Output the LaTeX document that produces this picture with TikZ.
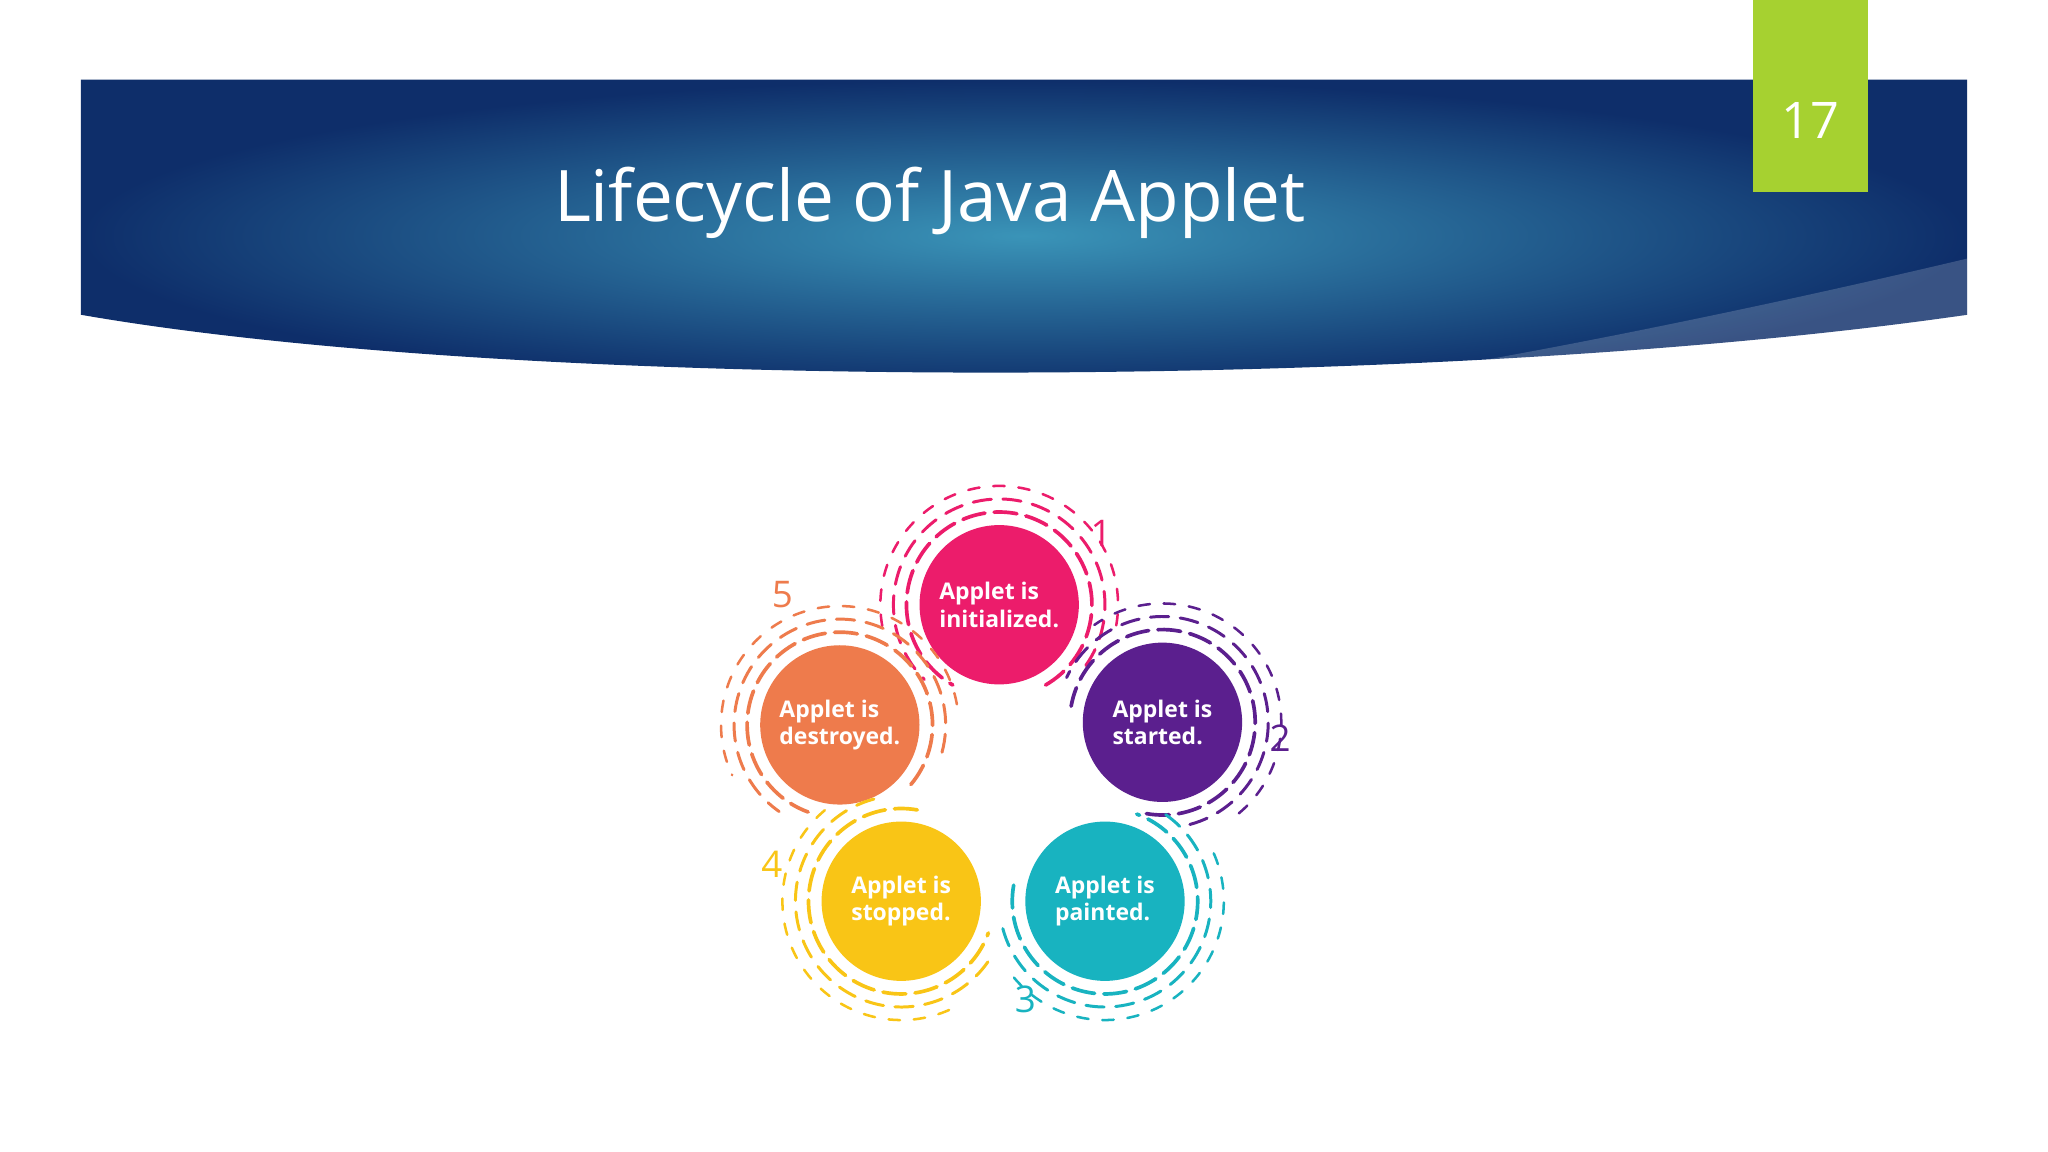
\documentclass[tikz,border=0pt]{standalone}
\usepackage{fontspec}
\setmainfont{Open Sans}
\definecolor{cpink}{HTML}{EC1C6B}
\definecolor{cpurple}{HTML}{5B1F8E}
\definecolor{cteal}{HTML}{18B3C0}
\definecolor{cyellow}{HTML}{F9C516}
\definecolor{corange}{HTML}{EE7B4C}
\definecolor{cgreen}{HTML}{A6D130}
\definecolor{dblue}{HTML}{0E2E6A}
\definecolor{lblue}{HTML}{3A94B8}
\tikzset{
 stagec/.style={circle,minimum size=2.44cm,inner sep=0pt,text=white,font=\bfseries\fontsize{10}{12}\selectfont,align=left},
 numlab/.style={font=\fontsize{16}{18}\selectfont},
 ring/.style={line width=1.6pt,line cap=round,dash pattern=on 10pt off 4pt},
}
\newcommand{\rings}[4]{% name, color, start angle, end angle
 \draw[ring,#2] (#1.center) ++(#3:1.42cm) arc[start angle=#3,end angle=#4,radius=1.42cm];
 \draw[ring,#2,line width=1.3pt,dash pattern=on 8pt off 5pt] (#1.center) ++(#3+25:1.62cm) arc[start angle=#3+25,end angle=#4-15,radius=1.62cm];
 \draw[ring,#2,line width=1.1pt,dash pattern=on 5pt off 6pt] (#1.center) ++(#3+50:1.82cm) arc[start angle=#3+50,end angle=#4-45,radius=1.82cm];
}
\begin{document}
\begin{tikzpicture}[x=0.02cm,y=-0.02cm]
\useasboundingbox (0,0) rectangle (1568,882);
\fill[white] (0,0) rectangle (1568,882);
\shade[inner color=lblue,outer color=dblue] (62,61) -- (1506,61) -- (1506,241) .. controls (1100,300) and (400,300) .. (62,241) -- cycle;
\fill[white,opacity=0.18] (1506,198) .. controls (1350,235) and (1200,265) .. (1100,282) .. controls (1300,270) and (1420,255) .. (1506,241) -- cycle;
\node[text=white,font=\fontsize{31}{36}\selectfont] (title) at (712,155) {Lifecycle of Java Applet};
\fill[cgreen] (1342,0) rectangle (1430,147);
\node[text=white,font=\fontsize{22}{26}\selectfont] (pgn) at (1386,92) {17};
\node[stagec,fill=cpink] (s1) at (765,463) {Applet is\\initialized.};
\node[stagec,fill=cpurple] (s2) at (890,553) {Applet is\\started.};
\node[stagec,fill=cteal] (s3) at (846,690) {Applet is\\painted.};
\node[stagec,fill=cyellow] (s4) at (690,690) {Applet is\\stopped.};
\node[stagec,fill=corange] (s5) at (643,555) {Applet is\\destroyed.};
\rings{s1}{cpink}{-60}{240}
\rings{s2}{cpurple}{-100}{170}
\rings{s3}{cteal}{-190}{70}
\rings{s4}{cyellow}{-280}{-20}
\rings{s5}{corange}{-40}{250}
\node[numlab,text=cpink] (n1) at (843,408) {1};
\node[numlab,text=cpurple] (n2) at (980,565) {2};
\node[numlab,text=cteal] (n3) at (785,765) {3};
\node[numlab,text=cyellow] (n4) at (591,662) {4};
\node[numlab,text=corange] (n5) at (599,455) {5};
\end{tikzpicture}
\end{document}
